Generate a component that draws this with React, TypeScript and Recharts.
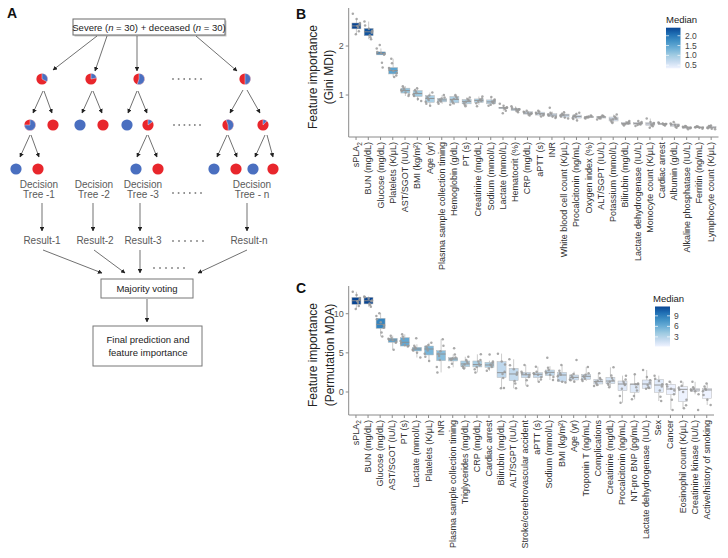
import React from 'react';
import { ComposedChart, Bar, Scatter, XAxis, YAxis } from 'recharts';

const FONT = '"Liberation Sans", Arial, Helvetica, sans-serif';

// ---------------- Panel B data (Gini MDI) ----------------
const catsB = ['sPLA2', 'BUN (mg/dL)', 'Glucose (mg/dL)', 'Platelets (K/μL)', 'AST/SGOT (IU/L)', 'BMI (kg/m²)', 'Age (yr)', 'Plasma sample collection timing', 'Hemoglobin (g/dL)', 'PT (s)', 'Creatinine (mg/dL)', 'Sodium (mmol/L)', 'Lactate (mmol/L)', 'Hematocrit (%)', 'CRP (mg/dL)', 'aPTT (s)', 'INR', 'White blood cell count (K/μL)', 'Procalcitonin (ng/mL)', 'Oxygen index (%)', 'ALT/SGPT (IU/L)', 'Potassium (mmol/L)', 'Bilirubin (mg/dL)', 'Lactate dehydrogenase (IU/L)', 'Monocyte count (K/μL)', 'Cardiac arrest', 'Albumin (g/dL)', 'Alkaline phosphatase (IU/L)', 'Ferritin (ng/mL)', 'Lymphocyte count (K/μL)'];
const q1B = [2.35, 2.21, 1.82, 1.43, 1.04, 0.97, 0.85, 0.86, 0.84, 0.82, 0.85, 0.82, 0.72, 0.68, 0.61, 0.59, 0.56, 0.55, 0.53, 0.54, 0.53, 0.47, 0.40, 0.40, 0.38, 0.40, 0.36, 0.32, 0.33, 0.32];
const medB = [2.41, 2.29, 1.85, 1.50, 1.09, 1.03, 0.93, 0.90, 0.91, 0.87, 0.89, 0.86, 0.74, 0.71, 0.63, 0.62, 0.59, 0.59, 0.56, 0.55, 0.55, 0.51, 0.42, 0.42, 0.41, 0.41, 0.39, 0.34, 0.34, 0.34];
const q3B = [2.47, 2.36, 1.88, 1.56, 1.14, 1.09, 0.99, 0.93, 0.97, 0.91, 0.92, 0.90, 0.75, 0.73, 0.66, 0.65, 0.62, 0.61, 0.59, 0.56, 0.56, 0.55, 0.44, 0.44, 0.44, 0.42, 0.41, 0.35, 0.35, 0.36];
const loB = [2.24, 2.14, 1.82, 1.37, 0.98, 0.88, 0.78, 0.82, 0.80, 0.77, 0.80, 0.78, 0.68, 0.65, 0.58, 0.56, 0.53, 0.52, 0.48, 0.52, 0.50, 0.43, 0.38, 0.37, 0.33, 0.38, 0.33, 0.30, 0.31, 0.30];
const hiB = [2.55, 2.50, 1.95, 1.74, 1.18, 1.14, 1.05, 1.00, 1.00, 0.95, 0.97, 0.96, 0.78, 0.77, 0.68, 0.68, 0.66, 0.65, 0.64, 0.58, 0.58, 0.60, 0.47, 0.47, 0.52, 0.44, 0.45, 0.37, 0.36, 0.38];
const ptsB = [
  [2.66, 2.55, 2.47, 2.44, 2.41, 2.38, 2.30, 2.24],
  [2.50, 2.42, 2.35, 2.31, 2.27, 2.22, 2.18, 2.14],
  [2.02, 1.95, 1.88, 1.86, 1.84, 1.82, 1.66, 1.56],
  [1.74, 1.65, 1.55, 1.52, 1.49, 1.45, 1.40, 1.37],
  [1.18, 1.15, 1.12, 1.10, 1.08, 1.05, 1.01, 0.98],
  [1.14, 1.10, 1.07, 1.04, 1.01, 0.98, 0.92, 0.88],
  [1.05, 0.99, 0.96, 0.93, 0.90, 0.86, 0.82, 0.78],
  [1.00, 0.95, 0.93, 0.91, 0.89, 0.87, 0.85, 0.82],
  [1.00, 0.97, 0.94, 0.92, 0.89, 0.86, 0.83, 0.80],
  [0.95, 0.92, 0.90, 0.88, 0.86, 0.83, 0.80, 0.77],
  [0.97, 0.93, 0.91, 0.90, 0.88, 0.86, 0.83, 0.77],
  [0.96, 0.91, 0.89, 0.87, 0.85, 0.83, 0.80, 0.78],
  [0.82, 0.78, 0.75, 0.74, 0.73, 0.72, 0.68, 0.63],
  [0.77, 0.74, 0.72, 0.71, 0.70, 0.69, 0.67, 0.65],
  [0.68, 0.66, 0.65, 0.64, 0.63, 0.61, 0.60, 0.58],
  [0.68, 0.66, 0.64, 0.62, 0.61, 0.60, 0.58, 0.56],
  [0.74, 0.64, 0.62, 0.60, 0.58, 0.56, 0.55, 0.53],
  [0.65, 0.62, 0.60, 0.59, 0.58, 0.56, 0.54, 0.52],
  [0.64, 0.61, 0.58, 0.57, 0.55, 0.53, 0.51, 0.48],
  [0.58, 0.57, 0.56, 0.55, 0.55, 0.54, 0.53, 0.52],
  [0.58, 0.57, 0.56, 0.55, 0.54, 0.53, 0.52, 0.50],
  [0.60, 0.56, 0.54, 0.52, 0.50, 0.48, 0.45, 0.43],
  [0.47, 0.45, 0.44, 0.43, 0.42, 0.41, 0.40, 0.38],
  [0.47, 0.45, 0.43, 0.42, 0.41, 0.40, 0.39, 0.37],
  [0.52, 0.45, 0.43, 0.41, 0.40, 0.38, 0.36, 0.33],
  [0.44, 0.43, 0.42, 0.41, 0.41, 0.40, 0.39, 0.38],
  [0.45, 0.42, 0.40, 0.39, 0.38, 0.37, 0.35, 0.33],
  [0.37, 0.36, 0.35, 0.34, 0.33, 0.33, 0.32, 0.30],
  [0.36, 0.35, 0.35, 0.34, 0.34, 0.33, 0.33, 0.31],
  [0.38, 0.37, 0.36, 0.35, 0.33, 0.32, 0.31, 0.30],
];
const ticksB = [1, 2];
const legendTicksB = [2.0, 1.5, 1.0, 0.5];

// ---------------- Panel C data (Permutation MDA) ----------------
const catsC = ['sPLA2', 'BUN (mg/dL)', 'Glucose (mg/dL)', 'AST/SGOT (IU/L)', 'PT (s)', 'Lactate (mmol/L)', 'Platelets (K/μL)', 'INR', 'Plasma sample collection timing', 'Triglycerides (mg/dL)', 'CRP (mg/dL)', 'Cardiac arrest', 'Bilirubin (mg/dL)', 'ALT/SGPT (IU/L)', 'Stroke/cerebrovascular accident', 'aPTT (s)', 'Sodium (mmol/L)', 'BMI (kg/m²)', 'Age (yr)', 'Troponin T (ng/mL)', 'Complications', 'Creatinine (mg/dL)', 'Procalcitonin (ng/mL)', 'NT-pro BNP (pg/mL)', 'Lactate dehydrogenase (IU/L)', 'Sex', 'Cancer', 'Eosinophil count (K/μL)', 'Creatinine kinase (IU/L)', 'Active/history of smoking'];
const q1C = [11.2, 11.25, 8.13, 6.35, 5.87, 5.24, 4.73, 4.0, 3.96, 3.23, 3.2, 3.15, 1.85, 1.44, 1.83, 1.83, 2.09, 1.32, 1.53, 1.62, 1.02, 1.06, 0.17, -0.04, 0.47, -0.04, -0.3, -1.24, 0.04, -0.8];
const medC = [11.66, 11.66, 8.64, 6.64, 6.35, 5.49, 5.49, 4.85, 4.21, 3.58, 3.5, 3.45, 2.47, 2.3, 2.2, 2.26, 2.51, 2.17, 1.87, 2.0, 1.32, 1.4, 1.02, 1.0, 1.02, 0.89, 0.38, 0.34, 0.26, 0.26];
const q3C = [12.09, 12.1, 9.41, 6.86, 6.94, 5.71, 5.87, 5.28, 4.38, 3.96, 3.96, 3.79, 3.87, 3.03, 2.51, 2.47, 2.81, 2.51, 2.17, 2.26, 1.62, 1.87, 1.4, 1.02, 1.53, 1.62, 0.98, 0.68, 0.47, 0.47];
const loC = [10.6, 10.9, 7.1, 5.4, 5.8, 4.4, 3.96, 2.5, 3.15, 3.0, 2.5, 2.7, 0.47, 0.47, 0.81, 1.32, 1.53, 1.2, 1.3, 1.4, 0.77, 0.6, -1.37, -0.94, 0.4, -1.15, -2.3, -2.09, -0.3, -1.66];
const hiC = [12.8, 12.2, 10.05, 7.2, 7.37, 6.1, 6.3, 6.73, 4.8, 4.5, 4.81, 4.0, 4.9, 4.18, 3.45, 3.23, 3.3, 3.45, 2.6, 3.2, 2.39, 3.15, 2.09, 2.26, 2.81, 2.09, 1.32, 1.3, 1.3, 1.1];
const ptsC = [
  [12.8, 12.4, 12.0, 11.8, 11.6, 11.4, 11.0, 10.6],
  [12.2, 12.1, 11.9, 11.7, 11.6, 11.3, 11.1, 10.9],
  [10.05, 9.7, 9.3, 8.9, 8.5, 8.2, 7.6, 7.1],
  [7.2, 6.9, 6.8, 6.7, 6.6, 6.4, 6.3, 5.4],
  [7.37, 7.1, 6.8, 6.5, 6.2, 6.0, 5.9, 5.8],
  [6.86, 5.9, 5.7, 5.6, 5.4, 5.3, 5.0, 4.4],
  [6.3, 6.0, 5.8, 5.6, 5.3, 4.9, 4.5, 3.96],
  [6.73, 5.9, 5.2, 4.9, 4.6, 4.1, 3.2, 2.5],
  [5.58, 4.8, 4.4, 4.3, 4.2, 4.1, 3.6, 3.15],
  [4.5, 4.1, 3.9, 3.7, 3.5, 3.3, 3.1, 3.0],
  [4.81, 4.1, 3.9, 3.6, 3.4, 3.2, 2.9, 2.5],
  [4.8, 3.9, 3.7, 3.5, 3.4, 3.2, 3.0, 2.7],
  [4.9, 3.9, 3.5, 2.6, 2.3, 1.8, 0.52, 0.47],
  [4.18, 3.4, 2.9, 2.5, 2.2, 1.4, 1.1, 0.47],
  [3.45, 2.6, 2.4, 2.3, 2.2, 1.9, 1.5, 0.81],
  [3.23, 2.6, 2.4, 2.3, 2.2, 1.9, 1.6, 1.32],
  [4.38, 3.1, 2.8, 2.6, 2.4, 2.2, 1.9, 1.53],
  [3.45, 2.7, 2.4, 2.2, 2.0, 1.5, 1.3, 1.2],
  [4.09, 2.3, 2.1, 1.9, 1.8, 1.6, 1.5, 1.3],
  [3.2, 2.4, 2.2, 2.0, 1.9, 1.7, 1.6, 1.4],
  [2.39, 1.8, 1.6, 1.4, 1.3, 1.1, 0.9, 0.77],
  [3.15, 2.1, 1.8, 1.5, 1.3, 1.1, 0.9, 0.6],
  [2.09, 1.6, 1.3, 1.1, 0.9, 0.4, -0.5, -1.37],
  [2.26, 1.1, 1.0, 1.0, 0.6, 0.2, -0.5, -0.94],
  [2.81, 1.9, 1.5, 1.2, 0.9, 0.6, 0.5, 0.4],
  [2.09, 1.7, 1.4, 1.0, 0.7, 0.2, -0.6, -1.15],
  [1.32, 1.0, 0.7, 0.4, 0.2, -0.3, -1.0, -2.3],
  [1.3, 0.8, 0.5, 0.3, 0.0, -1.0, -1.7, -2.09],
  [1.3, 0.6, 0.4, 0.3, 0.2, 0.1, -0.3, -2.3],
  [1.1, 0.7, 0.4, 0.3, 0.1, -0.4, -1.0, -1.66],
];
const ticksC = [0, 5, 10];
const legendTicksC = [9, 6, 3];

// ---------------- styling helpers ----------------
const BLUES = ['#eff3ff', '#c6dbef', '#9ecae1', '#6baed6', '#4292c6', '#2171b5', '#084594'];
const JITTER = [-3.2, 2.1, -0.8, 3.5, -2.2, 0.6, 2.8, -3.8, 1.4, -1.5, 3.9, -0.2];
const NPTS = 8;

function hexToRgb(h: string) {
  const n = parseInt(h.slice(1), 16);
  return [(n >> 16) & 255, (n >> 8) & 255, n & 255];
}
function blues(t: number) {
  const tt = Math.max(0, Math.min(1, t));
  const s = tt * (BLUES.length - 1);
  const i = Math.min(BLUES.length - 2, Math.floor(s));
  const f = s - i;
  const a = hexToRgb(BLUES[i]);
  const b = hexToRgb(BLUES[i + 1]);
  const c = a.map((v, k) => Math.round(v + (b[k] - v) * f));
  return `rgb(${c[0]},${c[1]},${c[2]})`;
}

function buildRows(cats: string[], q1: number[], med: number[], q3: number[], lo: number[], hi: number[], pts: number[][]) {
  return cats.map((name, i) => {
    const r: any = { name, idx: i, q1: q1[i], med: med[i], q3: q3[i], lo: lo[i], hi: hi[i] };
    pts[i].forEach((v, k) => { r['p' + k] = v; });
    return r;
  });
}

const rowsB = buildRows(catsB, q1B, medB, q3B, loB, hiB, ptsB);
const rowsC = buildRows(catsC, q1C, medC, q3C, loC, hiC, ptsC);

const makeBoxShape = (minMed: number, maxMed: number) => (props: any) => {
  const { x, y, width, height, payload } = props;
  if (!payload || x == null) return null;
  const top = Math.min(y, y + height);
  const h = Math.abs(height);
  const ppu = h / (payload.q3 - payload.q1);
  const yOf = (v: number) => top + (payload.q3 - v) * ppu;
  const cx = x + width / 2;
  const fill = blues((payload.med - minMed) / (maxMed - minMed));
  return (
    <g>
      <line x1={cx} x2={cx} y1={yOf(payload.hi)} y2={top} stroke="#a8a8a8" strokeWidth={0.6} />
      <line x1={cx} x2={cx} y1={top + h} y2={yOf(payload.lo)} stroke="#a8a8a8" strokeWidth={0.6} />
      <rect x={x} y={top} width={width} height={Math.max(h, 0.5)} fill={fill} stroke="#b8b8b8" strokeWidth={0.5} />
      <line x1={x} x2={x + width} y1={yOf(payload.med)} y2={yOf(payload.med)} stroke="#8c8c8c" strokeWidth={0.9} />
    </g>
  );
};

const makePointShape = (k: number) => (props: any) => {
  const { cx, cy, payload } = props;
  if (cx == null || cy == null || isNaN(cy)) return null;
  const off = JITTER[(k * 5 + (payload?.idx ?? 0) * 7) % JITTER.length];
  return <circle cx={cx + off} cy={cy} r={1.25} fill="#9a9a9a" fillOpacity={0.85} />;
};

const XTick = (props: any) => {
  const { x, y, payload } = props;
  const v = payload.value as string;
  return (
    <text x={x} y={y} transform={`rotate(-90 ${x} ${y})`} textAnchor="end" dominantBaseline="central" fontSize={9} fill="#333" fontFamily={FONT}>
      {v === 'sPLA2' ? (<>sPLA<tspan fontSize={6.5} dy={2.5}>2</tspan></>) : v}
    </text>
  );
};

function BoxPanel({ rows, meds, yDomain, yTicks, width, height, margin, xHeight, pad }: any) {
  const minMed = Math.min(...meds);
  const maxMed = Math.max(...meds);
  const boxShape = makeBoxShape(minMed, maxMed);
  return (
    <ComposedChart width={width} height={height} data={rows} margin={margin}>
      <XAxis dataKey="name" type="category" interval={0} height={xHeight} tickSize={3} tickMargin={2}
        tick={<XTick />} axisLine={{ stroke: '#8a8a8a' }} tickLine={{ stroke: '#8a8a8a' }} padding={{ left: pad, right: pad }} />
      <YAxis type="number" domain={yDomain} ticks={yTicks} allowDataOverflow width={30} tickSize={3} tickMargin={2}
        tick={{ fontSize: 9, fill: '#555', fontFamily: FONT }} axisLine={{ stroke: '#8a8a8a' }} tickLine={{ stroke: '#8a8a8a' }} />
      <Bar dataKey={(d: any) => [d.q1, d.q3]} barSize={9} shape={boxShape} isAnimationActive={false} />
      {Array.from({ length: NPTS }, (_, k) => (
        <Scatter key={k} dataKey={'p' + k} shape={makePointShape(k)} isAnimationActive={false} legendType="none" />
      ))}
    </ComposedChart>
  );
}

// ---------------- Panel A schematic ----------------
const RED = '#e8262c';
const BLUE = '#4a6fc0';

function PieGlyph({ cx, cy, blue, start = 0, r = 5.6 }: any) {
  if (blue <= 0) return <circle cx={cx} cy={cy} r={r} fill={RED} />;
  if (blue >= 1) return <circle cx={cx} cy={cy} r={r} fill={BLUE} />;
  const a0 = (start * Math.PI) / 180;
  const a1 = ((start + blue * 360) * Math.PI) / 180;
  const p = (a: number) => [cx + r * Math.sin(a), cy - r * Math.cos(a)];
  const [x0, y0] = p(a0);
  const [x1, y1] = p(a1);
  const large = blue > 0.5 ? 1 : 0;
  return (
    <g>
      <circle cx={cx} cy={cy} r={r} fill={RED} />
      <path d={`M${cx},${cy} L${x0},${y0} A${r},${r} 0 ${large} 1 ${x1},${y1} Z`} fill={BLUE} stroke="#fff" strokeWidth={0.4} />
    </g>
  );
}

function Dots({ x0, x1, y }: any) {
  const n = 6;
  return (
    <g>
      {Array.from({ length: n }, (_, i) => (
        <rect key={i} x={x0 + ((x1 - x0) * i) / (n - 1) - 0.8} y={y - 0.8} width={1.6} height={1.6} fill="#777" />
      ))}
    </g>
  );
}

const ARROWS = [
  [97, 36, 53, 70], [107, 36, 95, 71], [137, 36, 137, 71], [196, 36, 237, 71],
  [43, 91, 33, 113], [44, 91, 52, 113], [92, 91, 82, 113], [93, 91, 102, 113],
  [137, 91, 128, 113], [138, 91, 147, 113], [243, 90, 230, 113], [247, 90, 260, 113],
  [30, 135, 20, 157], [31, 135, 39, 157], [147, 135, 137, 157], [148, 135, 157, 157],
  [227, 135, 217, 157], [228, 135, 237, 157], [265, 135, 255, 157], [267, 135, 273, 157],
  [42, 203, 42, 231], [93, 203, 93, 231], [140, 203, 140, 231], [247, 203, 247, 231],
  [43, 250, 102, 273], [94, 250, 125, 273], [140, 250, 140, 273], [247, 250, 198, 273],
  [147, 299, 147, 322],
];

function PanelA() {
  const grey = '#5a5a5a';
  return (
    <g fontFamily={FONT}>
      <defs>
        <marker id="ah" viewBox="0 0 10 10" refX="9" refY="5" markerWidth="4.5" markerHeight="4.5" markerUnits="userSpaceOnUse" orient="auto">
          <path d="M0,0 L10,5 L0,10 z" fill="#222" />
        </marker>
      </defs>
      <text x={7} y={18} fontSize={14} fontWeight="bold" fill="#111">A</text>
      {/* top box */}
      <rect x={74.5} y={20.5} width={152} height={16} fill="#c8c8c8" />
      <rect x={73} y={19} width={152} height={16} fill="#fff" stroke="#6a6a6a" strokeWidth={1} />
      <text x={149} y={30.5} fontSize={9.5} textAnchor="middle" fill="#222">
        Severe (<tspan fontStyle="italic">n</tspan> = 30) + deceased (<tspan fontStyle="italic">n</tspan> = 30)
      </text>
      {ARROWS.map((a, i) => (
        <line key={i} x1={a[0]} y1={a[1]} x2={a[2]} y2={a[3]} stroke="#333" strokeWidth={0.7} markerEnd="url(#ah)" />
      ))}
      {/* level 1 */}
      <PieGlyph cx={42} cy={79} blue={0.33} />
      <PieGlyph cx={91} cy={79} blue={0.22} />
      <PieGlyph cx={139} cy={79} blue={0.55} />
      <PieGlyph cx={245} cy={79} blue={0.5} />
      <Dots x0={173} x1={201} y={79} />
      {/* level 2 */}
      <PieGlyph cx={30} cy={125} blue={0.75} />
      <PieGlyph cx={53} cy={125} blue={0} />
      <PieGlyph cx={80} cy={125} blue={1} />
      <PieGlyph cx={103} cy={125} blue={0} />
      <PieGlyph cx={127} cy={125} blue={1} />
      <PieGlyph cx={148} cy={125} blue={0.15} />
      <PieGlyph cx={228} cy={125} blue={0.55} start={-20} />
      <PieGlyph cx={263} cy={125} blue={0.12} />
      <Dots x0={174} x1={200} y={125} />
      {/* level 3 */}
      <PieGlyph cx={16} cy={169} blue={1} />
      <PieGlyph cx={38} cy={169} blue={0} />
      <PieGlyph cx={136} cy={169} blue={1} />
      <PieGlyph cx={158} cy={169} blue={0} />
      <PieGlyph cx={214} cy={169} blue={1} />
      <PieGlyph cx={236} cy={169} blue={0} />
      <PieGlyph cx={253} cy={169} blue={1} />
      <PieGlyph cx={273} cy={169} blue={0} />
      {/* labels */}
      {[[39, 'Tree -1'], [94, 'Tree -2'], [143, 'Tree -3'], [252, 'Tree - n']].map(([x, t]: any, i) => (
        <g key={i}>
          <text x={x} y={188} fontSize={10} textAnchor="middle" fill={grey}>Decision</text>
          <text x={x} y={198} fontSize={10} textAnchor="middle" fill={grey}>{t}</text>
        </g>
      ))}
      <Dots x0={173} x1={201} y={193} />
      {[[42, 'Result-1'], [95, 'Result-2'], [143, 'Result-3'], [249, 'Result-n']].map(([x, t]: any, i) => (
        <text key={i} x={x} y={244} fontSize={10} textAnchor="middle" fill={grey}>{t}</text>
      ))}
      <Dots x0={173} x1={203} y={241} />
      <Dots x0={154} x1={184} y={268} />
      {/* majority voting */}
      <rect x={101} y={279} width={92} height={19} fill="#fff" stroke="#777" strokeWidth={1} />
      <text x={147} y={292} fontSize={9.5} textAnchor="middle" fill="#222">Majority voting</text>
      <rect x={93} y={326} width={109} height={40} fill="#fff" stroke="#777" strokeWidth={1} />
      <text x={148} y={343} fontSize={9.5} textAnchor="middle" fill="#222">Final prediction and</text>
      <text x={148} y={356} fontSize={9.5} textAnchor="middle" fill="#222">feature importance</text>
    </g>
  );
}

function ColorLegend({ id, x, y, w, h, meds, ticks, titleX, titleY, labelX }: any) {
  const minMed = Math.min(...meds);
  const maxMed = Math.max(...meds);
  const yOf = (v: number) => y + ((maxMed - v) / (maxMed - minMed)) * h;
  return (
    <g fontFamily={FONT}>
      <defs>
        <linearGradient id={id} x1="0" y1="1" x2="0" y2="0">
          {BLUES.map((c, i) => (<stop key={i} offset={i / (BLUES.length - 1)} stopColor={c} />))}
        </linearGradient>
      </defs>
      <text x={titleX} y={titleY} fontSize={9.5} fill="#222">Median</text>
      <rect x={x} y={y} width={w} height={h} fill={`url(#${id})`} />
      {ticks.map((t: number, i: number) => (
        <g key={i}>
          <line x1={x} x2={x + 3} y1={yOf(t)} y2={yOf(t)} stroke="#fff" strokeWidth={0.7} />
          <line x1={x + w - 3} x2={x + w} y1={yOf(t)} y2={yOf(t)} stroke="#fff" strokeWidth={0.7} />
          <text x={labelX} y={yOf(t)} fontSize={8.5} fill="#444" dominantBaseline="central">{Number.isInteger(t) && t > 2.5 ? String(t) : t.toFixed(1)}</text>
        </g>
      ))}
    </g>
  );
}

function AxisTitle({ cx1, cx2, cy, line1, line2 }: any) {
  return (
    <g fontFamily={FONT} fontSize={12} fill="#222">
      <text x={cx1} y={cy} transform={`rotate(-90 ${cx1} ${cy})`} textAnchor="middle" dominantBaseline="central">{line1}</text>
      <text x={cx2} y={cy} transform={`rotate(-90 ${cx2} ${cy})`} textAnchor="middle" dominantBaseline="central">{line2}</text>
    </g>
  );
}

export default function App() {
  return (
    <div style={{ position: 'absolute', left: 0, top: 0, width: 728, height: 558, background: '#fff', overflow: 'hidden', fontFamily: FONT }}>
      <div style={{ position: 'absolute', left: 290, top: 0 }}>
        <BoxPanel rows={rowsB} meds={medB} yDomain={[0.143, 2.776]} yTicks={ticksB} width={438} height={290}
          margin={{ top: 8, right: 9.5, left: 28.7, bottom: 0 }} xHeight={153} pad={1.22} />
      </div>
      <div style={{ position: 'absolute', left: 290, top: 280 }}>
        <BoxPanel rows={rowsC} meds={medC} yDomain={[-2.94, 13.54]} yTicks={ticksC} width={438} height={278}
          margin={{ top: 6, right: 14, left: 28.7, bottom: 0 }} xHeight={143} pad={1.21} />
      </div>
      <svg width={728} height={558} style={{ position: 'absolute', left: 0, top: 0, pointerEvents: 'none' }}>
        <PanelA />
        <text x={296} y={19} fontSize={14} fontWeight="bold" fill="#111" fontFamily={FONT}>B</text>
        <text x={296} y={293} fontSize={14} fontWeight="bold" fill="#111" fontFamily={FONT}>C</text>
        <AxisTitle cx1={313} cx2={329} cy={77} line1="Feature importance" line2="(Gini MDI)" />
        <AxisTitle cx1={313} cx2={330} cy={355} line1="Feature importance" line2="(Permutation MDA)" />
        <ColorLegend id="gB" x={666} y={27.7} w={14.5} h={40.6} meds={medB} ticks={legendTicksB} titleX={666} titleY={23} labelX={685} />
        <ColorLegend id="gC" x={655} y={306.5} w={15} h={40} meds={medC} ticks={legendTicksC} titleX={653} titleY={302} labelX={674} />
      </svg>
    </div>
  );
}
